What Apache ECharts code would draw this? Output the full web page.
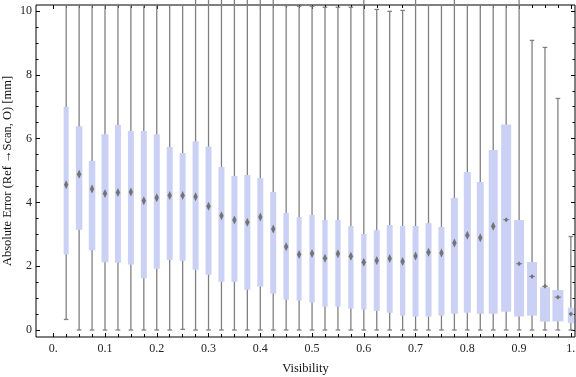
<!DOCTYPE html>
<html>
<head>
<meta charset="utf-8">
<script src="https://cdn.jsdelivr.net/npm/echarts@6/dist/echarts.min.js"></script>
<style>
  html, body { margin: 0; padding: 0; background: #fff; }
  #chart { width: 576px; height: 377px; }
</style>
</head>
<body>
<div id="chart"></div>
<script>
// Datos: un box-whisker por cada valor de visibilidad
const visibility = [0.025, 0.05, 0.075, 0.1, 0.125, 0.15, 0.175, 0.2, 0.225, 0.25,
  0.275, 0.3, 0.325, 0.35, 0.375, 0.4, 0.425, 0.45, 0.475, 0.5,
  0.525, 0.55, 0.575, 0.6, 0.625, 0.65, 0.675, 0.7, 0.725, 0.75,
  0.775, 0.8, 0.825, 0.85, 0.875, 0.9, 0.925, 0.95, 0.975, 1.0];
const whiskerLow = [0.33, 0, 0, 0, 0, 0, 0, 0, 0, 0.02,
  0, 0, 0, 0, 0, 0, 0, 0, 0, 0,
  0, 0, 0, 0, 0, 0, 0, 0, 0, 0,
  0, 0, 0, 0, 0, 0, 0, 0, 0, 0];
const quartile1 = [2.37, 3.14, 2.50, 2.12, 2.11, 2.05, 1.62, 1.92, 2.20, 2.17,
  1.89, 1.73, 1.51, 1.51, 1.26, 1.36, 1.14, 0.95, 0.92, 0.86,
  0.73, 0.73, 0.67, 0.64, 0.60, 0.54, 0.45, 0.42, 0.42, 0.45,
  0.51, 0.54, 0.51, 0.51, 0.57, 0.42, 0.45, 0.26, 0.27, 0.22];
const median = [4.55, 4.88, 4.42, 4.28, 4.31, 4.33, 4.05, 4.15, 4.22, 4.22,
  4.18, 3.88, 3.58, 3.45, 3.38, 3.54, 3.17, 2.61, 2.37, 2.40,
  2.25, 2.39, 2.31, 2.12, 2.18, 2.24, 2.15, 2.32, 2.44, 2.41,
  2.73, 2.97, 2.89, 3.25, 3.46, 2.08, 1.68, 1.37, 1.03, 0.50];
const quartile3 = [7.00, 6.39, 5.30, 6.14, 6.43, 6.24, 6.24, 6.14, 5.74, 5.55,
  5.92, 5.75, 5.11, 4.83, 4.86, 4.76, 4.33, 3.67, 3.54, 3.60,
  3.45, 3.45, 3.26, 3.01, 3.13, 3.29, 3.26, 3.26, 3.35, 3.23,
  4.14, 4.95, 4.64, 5.64, 6.44, 3.45, 2.13, 1.34, 1.25, 0.70];
const whiskerHigh = [10.2, 10.2, 10.2, 10.2, 10.2, 10.2, 10.2, 10.2, 10.2, 10.2,
  10.35, 10.6, 10.6, 10.6, 10.6, 10.6, 10.6, 10.17, 10.15, 10.15,
  10.12, 10.12, 10.12, 10.35, 10.05, 9.99, 10.02, 10.35, 10.19, 10.2,
  10.35, 10.2, 10.2, 10.2, 10.2, 10.35, 9.08, 8.86, 7.26, 2.93];

// Marcas de los ejes
const xTickValues = [0, 0.1, 0.2, 0.3, 0.4, 0.5, 0.6, 0.7, 0.8, 0.9, 1.0];
const xMinorValues = [0].concat(visibility);
const yTickValues = [0, 2, 4, 6, 8, 10];
const yMinorValues = [0, 0.5, 1, 1.5, 2, 2.5, 3, 3.5, 4, 4.5, 5, 5.5, 6, 6.5, 7, 7.5, 8, 8.5, 9, 9.5, 10];

// Estilo: ancho de cada caja en px
const boxWidthPx = [5, 6.5, 6.5, 7, 6, 6, 6, 6, 6, 6,
  6, 6, 6, 6, 6, 6, 6, 5.5, 5, 5.3,
  5.3, 5.3, 5.3, 5.3, 6, 6, 5.3, 6, 6, 6,
  7, 7, 7, 9, 10, 10, 10, 10, 11, 6];

const X_MIN = -0.0333, X_MAX = 1.008;
const Y_MIN = -0.22, Y_MAX = 10.19;
const FONT = 'Liberation Serif';

const chart = echarts.init(document.getElementById('chart'));

function renderBox(params, api) {
  const i = params.dataIndex;
  const x = api.value(0);
  const lo = api.coord([x, api.value(1)]);
  const q1 = api.coord([x, api.value(2)]);
  const md = api.coord([x, api.value(3)]);
  const q3 = api.coord([x, api.value(4)]);
  const hi = api.coord([x, api.value(5)]);
  const cx = lo[0];
  const w = boxWidthPx[i];
  const top = Math.max(hi[1], 0);
  const cap = 2.3;
  const ls = { stroke: '#808080', lineWidth: 1.3 };
  const children = [
    { type: 'line', shape: { x1: cx, y1: lo[1], x2: cx, y2: top }, style: ls },
    { type: 'line', shape: { x1: cx - cap, y1: lo[1], x2: cx + cap, y2: lo[1] }, style: ls }
  ];
  if (hi[1] >= 0) {
    children.push({ type: 'line', shape: { x1: cx - cap, y1: top, x2: cx + cap, y2: top }, style: ls });
  }
  children.push({
    type: 'rect',
    shape: { x: cx - w / 2, y: q3[1], width: w, height: q1[1] - q3[1] },
    style: { fill: '#cbd1f4' }
  });
  // mediana: rombo gris
  const small = w >= 10 || i === visibility.length - 1;
  const dh = small ? 2.5 : 4.5;
  const dw = small ? 2 : 2.2;
  if (small) {
    children.push({ type: 'line', shape: { x1: cx - w * 0.3, y1: md[1], x2: cx + w * 0.3, y2: md[1] },
      style: { stroke: '#8a8a8a', lineWidth: 1 } });
  }
  children.push({
    type: 'polygon',
    shape: { points: [[cx, md[1] - dh], [cx + dw, md[1]], [cx, md[1] + dh], [cx - dw, md[1]]] },
    style: { fill: '#747474' }
  });
  return { type: 'group', children };
}

function valueAxis(extra) {
  return Object.assign({
    type: 'value',
    offset: 0,
    axisLine: { show: false, onZero: false },
    splitLine: { show: false },
    axisLabel: { show: false },
    axisTick: { show: false }
  }, extra);
}

const tickStyle = { color: '#000', width: 1 };

const option = {
  animation: false,
  grid: {
    left: 36, top: 5, right: 1, bottom: 40,
    outerBoundsMode: 'none', containLabel: false,
    show: true, borderColor: '#000', borderWidth: 1, backgroundColor: 'transparent'
  },
  xAxis: [
    valueAxis({
      position: 'bottom', min: X_MIN, max: X_MAX,
      name: 'Visibility', nameLocation: 'middle', nameGap: 25,
      nameTextStyle: { fontFamily: FONT, fontSize: 12.5, color: '#111' },
      axisTick: { show: true, inside: true, length: 4, lineStyle: tickStyle, customValues: xTickValues },
      axisLabel: {
        show: true, margin: 6, customValues: xTickValues,
        fontFamily: FONT, fontSize: 12, color: '#222',
        formatter: v => (v === 0 ? '0.' : v === 1 ? '1.' : v.toFixed(1))
      }
    }),
    valueAxis({
      position: 'bottom', min: X_MIN, max: X_MAX,
      axisTick: { show: true, inside: true, length: 3, lineStyle: tickStyle, customValues: xMinorValues }
    }),
    valueAxis({
      position: 'top', min: X_MIN, max: X_MAX,
      axisTick: { show: true, inside: true, length: 4, lineStyle: tickStyle, customValues: xTickValues }
    }),
    valueAxis({
      position: 'top', min: X_MIN, max: X_MAX,
      axisTick: { show: true, inside: true, length: 3, lineStyle: tickStyle, customValues: xMinorValues }
    })
  ],
  yAxis: [
    valueAxis({
      position: 'left', min: Y_MIN, max: Y_MAX,
      name: 'Absolute Error (Ref →Scan, O) [mm]', nameLocation: 'middle', nameGap: 22, nameRotate: 90,
      nameMoveOverlap: false,
      nameTextStyle: { fontFamily: FONT, fontSize: 12.5, color: '#111' },
      axisTick: { show: true, inside: true, length: 4, lineStyle: tickStyle, customValues: yTickValues },
      axisLabel: { show: true, margin: 4, customValues: yTickValues, fontFamily: FONT, fontSize: 12, color: '#222' }
    }),
    valueAxis({
      position: 'left', min: Y_MIN, max: Y_MAX,
      axisTick: { show: true, inside: true, length: 2.5, lineStyle: tickStyle, customValues: yMinorValues }
    }),
    valueAxis({
      position: 'right', min: Y_MIN, max: Y_MAX,
      axisTick: { show: true, inside: true, length: 4, lineStyle: tickStyle, customValues: yTickValues }
    }),
    valueAxis({
      position: 'right', min: Y_MIN, max: Y_MAX,
      axisTick: { show: true, inside: true, length: 2.5, lineStyle: tickStyle, customValues: yMinorValues }
    })
  ],
  series: [{
    type: 'custom',
    xAxisIndex: 0,
    yAxisIndex: 0,
    clip: false,
    renderItem: renderBox,
    encode: { x: 0, y: [1, 2, 3, 4, 5] },
    data: visibility.map((v, i) => [v, whiskerLow[i], quartile1[i], median[i], quartile3[i], whiskerHigh[i]])
  }]
};

chart.setOption(option);
</script>
</body>
</html>
